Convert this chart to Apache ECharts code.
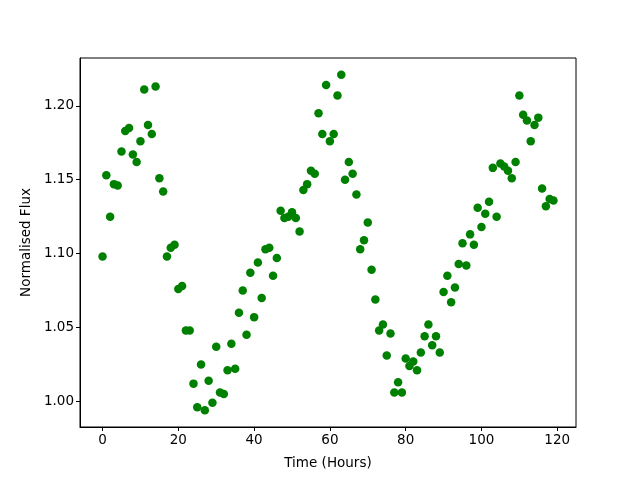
<!DOCTYPE html>
<html>
<head>
<meta charset="utf-8">
<script src="https://cdn.jsdelivr.net/npm/echarts@6/dist/echarts.min.js"></script>
<style>
  html, body { margin: 0; padding: 0; background: #fff; }
  #chart { width: 640px; height: 480px; }
</style>
</head>
<body>
<div id="chart"></div>
<script>
// hours of observation
var horas = [];
for (var h = 0; h < 120; h++) horas.push(h);

// normalised flux, one per hour
var flujo = [
  1.098, 1.153, 1.125, 1.147, 1.146, 1.169, 1.183, 1.185, 1.167, 1.162,
  1.176, 1.211, 1.187, 1.181, 1.213, 1.151, 1.142, 1.098, 1.104, 1.106,
  1.076, 1.078, 1.048, 1.048, 1.012, 0.996, 1.025, 0.994, 1.014, 0.999,
  1.037, 1.006, 1.005, 1.021, 1.039, 1.022, 1.060, 1.075, 1.045, 1.087,
  1.057, 1.094, 1.070, 1.103, 1.104, 1.085, 1.097, 1.129, 1.124, 1.125,
  1.128, 1.124, 1.115, 1.143, 1.147, 1.156, 1.154, 1.195, 1.181, 1.214,
  1.176, 1.181, 1.207, 1.221, 1.150, 1.162, 1.154, 1.140, 1.103, 1.109,
  1.121, 1.089, 1.069, 1.048, 1.052, 1.031, 1.046, 1.006, 1.013, 1.006,
  1.029, 1.024, 1.027, 1.021, 1.033, 1.044, 1.052, 1.038, 1.044, 1.033,
  1.074, 1.085, 1.067, 1.077, 1.093, 1.107, 1.092, 1.113, 1.106, 1.131,
  1.118, 1.127, 1.135, 1.158, 1.125, 1.161, 1.159, 1.156, 1.151, 1.162,
  1.207, 1.194, 1.190, 1.176, 1.187, 1.192, 1.144, 1.132, 1.137, 1.136
];

var ticksX = [0, 20, 40, 60, 80, 100, 120];
var ticksY = [1.00, 1.05, 1.10, 1.15, 1.20];

// matplotlib style 5% margins
function rango(valores) {
  var mn = Math.min.apply(null, valores);
  var mx = Math.max.apply(null, valores);
  var m = (mx - mn) * 0.05;
  return [mn - m, mx + m];
}
var rx = rango(horas);
var ry = rango(flujo);

var puntos = horas.map(function (h, i) { return [h, flujo[i]]; });

var fuente = { fontFamily: "DejaVu Sans", fontSize: 13.5, color: "#000" };

var option = {
  animation: false,
  grid: {
    left: 80, right: 64, top: 58, bottom: 53,
    show: true, borderColor: "#000", borderWidth: 1, backgroundColor: "#fff"
  },
  xAxis: {
    type: "value",
    min: rx[0], max: rx[1],
    name: "Time (Hours)",
    nameLocation: "middle",
    nameGap: 29,
    nameTextStyle: fuente,
    axisLine: { show: true, onZero: false, lineStyle: { color: "#000", width: 1 } },
    axisTick: { show: true, length: 4, customValues: ticksX, lineStyle: { color: "#000" } },
    axisLabel: Object.assign({ margin: 6, customValues: ticksX }, fuente),
    splitLine: { show: false }
  },
  yAxis: {
    type: "value",
    min: ry[0], max: ry[1],
    name: "Normalised Flux",
    nameLocation: "middle",
    nameGap: 46,
    nameTextStyle: fuente,
    axisLine: { show: true, onZero: false, lineStyle: { color: "#000", width: 1 } },
    axisTick: { show: true, length: 4, customValues: ticksY, lineStyle: { color: "#000" } },
    axisLabel: Object.assign({
      margin: 6,
      customValues: ticksY,
      formatter: function (v) { return v.toFixed(2); }
    }, fuente),
    splitLine: { show: false }
  },
  series: [
    {
      type: "scatter",
      data: puntos,
      symbol: "circle",
      symbolSize: 8.5,
      itemStyle: { color: "#008000", opacity: 1 }
    }
  ]
};

var myChart = echarts.init(document.getElementById("chart"), null, { renderer: "canvas" });
myChart.setOption(option);
</script>
</body>
</html>
